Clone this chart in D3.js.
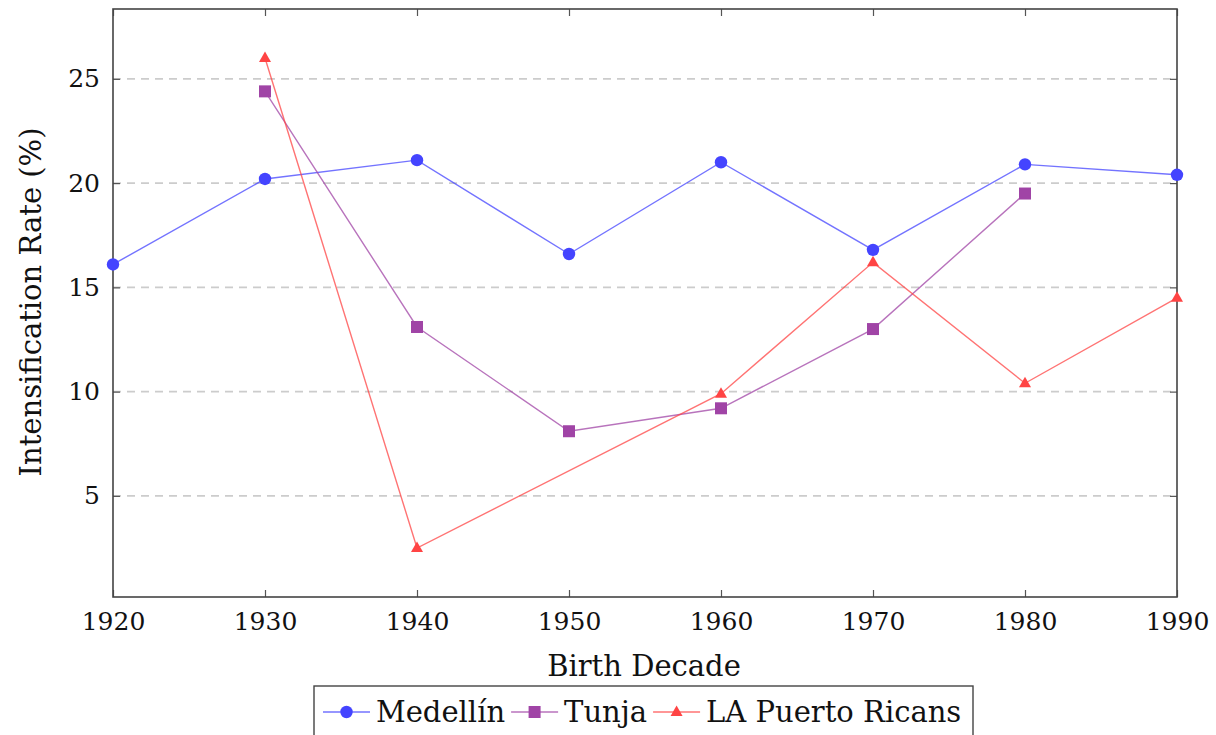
<!DOCTYPE html>
<html>
<head>
<meta charset="utf-8">
<script src="https://cdn.jsdelivr.net/npm/d3@7"></script>
<style>
  body { margin: 0; background: #fff; }
</style>
</head>
<body>
<svg id="chart" width="1216" height="735"></svg>
<script>
// ---- data -------------------------------------------------------------------
const decades   = [1920, 1930, 1940, 1950, 1960, 1970, 1980, 1990];
const yTicks    = [5, 10, 15, 20, 25];
const medellin  = [[1920, 16.1], [1930, 20.2], [1940, 21.1], [1950, 16.6], [1960, 21.0], [1970, 16.8], [1980, 20.9], [1990, 20.4]];
const tunja     = [[1930, 24.4], [1940, 13.1], [1950, 8.1], [1960, 9.2], [1970, 13.0], [1980, 19.5]];
const puerto    = [[1930, 26.0], [1940, 2.5], [1960, 9.9], [1970, 16.2], [1980, 10.4], [1990, 14.5]];

const series = [
  { name: 'Medellín',          values: medellin, color: '#4444ff', marker: 'circle' },
  { name: 'Tunja',             values: tunja,    color: '#a044a6', marker: 'square' },
  { name: 'LA Puerto Ricans',  values: puerto,   color: '#ff4444', marker: 'triangle' }
];

const FONT = '"DejaVu Serif", serif';
const TICK_FS = 25;
const LABEL_FS = 29;

// ---- layout -----------------------------------------------------------------
const svg = d3.select('#chart');
const L = 113, R = 1177, T = 9, B = 597;

const x = d3.scaleLinear().domain([1920, 1990]).range([L, R]);
const y = d3.scaleLinear().domain([0.15, 28.35]).range([B, T]);

// grid
svg.append('g').selectAll('line').data(yTicks).join('line')
  .attr('x1', L).attr('x2', R)
  .attr('y1', d => y(d)).attr('y2', d => y(d))
  .attr('stroke', '#cccccc').attr('stroke-width', 1.6)
  .attr('stroke-dasharray', '8,6');

// axes (ticks inside, mirrored)
const axisStyle = g => {
  g.select('.domain').remove();
  g.selectAll('.tick line').attr('stroke', '#555').attr('stroke-width', 1.2);
  g.selectAll('.tick text').style('font-family', FONT).style('font-size', TICK_FS + 'px').attr('fill', '#111');
};
svg.append('g').attr('transform', `translate(0,${B})`)
  .call(d3.axisBottom(x).tickValues(decades).tickFormat(d3.format('d')).tickSize(-7).tickPadding(15))
  .call(axisStyle);
svg.append('g').attr('transform', `translate(0,${T})`)
  .call(d3.axisTop(x).tickValues(decades).tickFormat('').tickSize(-7))
  .call(axisStyle);
svg.append('g').attr('transform', `translate(${L},0)`)
  .call(d3.axisLeft(y).tickValues(yTicks).tickFormat(d3.format('d')).tickSize(-7).tickPadding(13))
  .call(axisStyle);
svg.append('g').attr('transform', `translate(${R},0)`)
  .call(d3.axisRight(y).tickValues(yTicks).tickFormat('').tickSize(-7))
  .call(axisStyle);

svg.append('rect')
  .attr('x', L).attr('y', T).attr('width', R - L).attr('height', B - T)
  .attr('fill', 'none').attr('stroke', '#444').attr('stroke-width', 1.6);

// axis titles
svg.append('text').attr('x', (L + R) / 2 - 1).attr('y', 676)
  .attr('text-anchor', 'middle').style('font-family', FONT).style('font-size', LABEL_FS + 'px').attr('fill', '#111')
  .text('Birth Decade');
svg.append('text')
  .attr('transform', `translate(41,${(T + B) / 2 - 1}) rotate(-90)`)
  .attr('text-anchor', 'middle').style('font-family', FONT).style('font-size', LABEL_FS + 'px').attr('fill', '#111')
  .text('Intensification Rate (%)');

// ---- markers -----------------------------------------------------------------
function drawMarker(g, type, cx, cy, color) {
  if (type === 'circle') {
    g.append('circle').attr('cx', cx).attr('cy', cy).attr('r', 6.2).attr('fill', color);
  } else if (type === 'square') {
    g.append('rect').attr('x', cx - 6).attr('y', cy - 6).attr('width', 12).attr('height', 12).attr('fill', color);
  } else {
    g.append('path').attr('transform', `translate(${cx},${cy})`)
      .attr('d', 'M0,-6.5 L6,4 L-6,4 Z').attr('fill', color);
  }
}

const line = d3.line().x(d => x(d[0])).y(d => y(d[1]));
series.forEach(s => {
  const g = svg.append('g');
  g.append('path').datum(s.values).attr('d', line)
    .attr('fill', 'none').attr('stroke', s.color).attr('stroke-width', 1.4).attr('stroke-opacity', 0.75);
  s.values.forEach(d => drawMarker(g, s.marker, x(d[0]), y(d[1]), s.color));
});

// ---- legend ------------------------------------------------------------------
const lg = svg.append('g');
lg.append('rect').attr('x', 314).attr('y', 686).attr('width', 659).attr('height', 60)
  .attr('fill', '#fff').attr('stroke', '#444').attr('stroke-width', 1.4);
let lx = 323;
series.forEach(s => {
  const cy = 712;
  lg.append('line').attr('x1', lx).attr('x2', lx + 47).attr('y1', cy).attr('y2', cy)
    .attr('stroke', s.color).attr('stroke-width', 1.4).attr('stroke-opacity', 0.75);
  drawMarker(lg, s.marker, lx + 23.5, cy, s.color);
  const t = lg.append('text').attr('x', lx + 53).attr('y', cy + 10)
    .style('font-family', FONT).style('font-size', LABEL_FS + 'px').attr('fill', '#111').text(s.name);
  lx += 53 + t.node().getComputedTextLength() + 6;
});
</script>
</body>
</html>
